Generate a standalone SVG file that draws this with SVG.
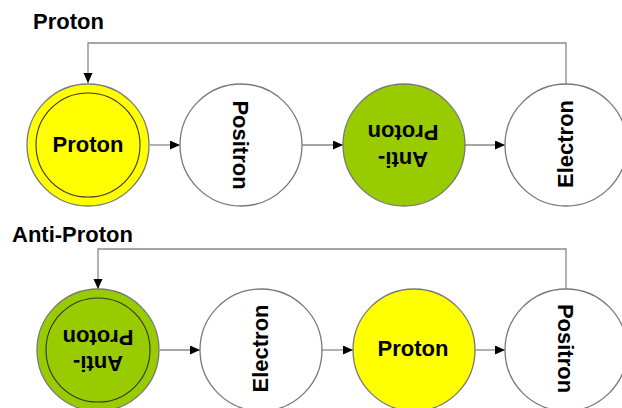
<svg xmlns="http://www.w3.org/2000/svg" width="622" height="408" viewBox="0 0 622 408">
  <defs>
    <marker id="arrow" markerUnits="userSpaceOnUse" markerWidth="11" markerHeight="10" refX="10" refY="4.5" orient="auto">
      <path d="M0,0 L10,4.5 L0,9 z" fill="#000"/>
    </marker>
    <style>
      .node { stroke: #777; stroke-width: 1.3; }
      .inner { fill: none; stroke: #333; stroke-width: 1.1; }
      .white { fill: #fff; }
      .yellow { fill: #ffff00; }
      .green { fill: #99cc00; }
      .label { font-family: "Liberation Sans", Arial, sans-serif; font-weight: bold; font-size: 22px; fill: #000; }
      .mid { text-anchor: middle; }
      .conn { fill: none; stroke: #888; stroke-width: 1.3; marker-end: url(#arrow); }
    </style>
  </defs>
  <rect width="622" height="408" fill="#fff"/>

  <!-- row titles -->
  <text class="label" x="33" y="29">Proton</text>
  <text class="label" x="12" y="242">Anti-Proton</text>

  <!-- connectors -->
  <g id="connectors">
    <path class="conn" d="M566,84 V43 H88 V83"/>
    <path class="conn" d="M150,145 H180"/>
    <path class="conn" d="M302,145 H343"/>
    <path class="conn" d="M465,145 H505"/>
    <path class="conn" d="M566,289 V249 H98 V289"/>
    <path class="conn" d="M160,350 H200"/>
    <path class="conn" d="M322,350 H353"/>
    <path class="conn" d="M475,350 H505"/>
  </g>

  <!-- top row -->
  <g id="t-proton">
    <circle class="node yellow" cx="88" cy="145" r="61"/>
    <circle class="inner" cx="88" cy="145" r="52"/>
    <text class="label mid" x="88" y="152">Proton</text>
  </g>
  <g id="t-positron">
    <circle class="node white" cx="241" cy="145" r="61"/>
    <text class="label mid" x="241" y="153" transform="rotate(90 241 145)">Positron</text>
  </g>
  <g id="t-antiproton">
    <circle class="node green" cx="404" cy="145" r="61"/>
    <g transform="rotate(180 404 145)">
      <text class="label mid" x="405" y="138">Anti-</text>
      <text class="label mid" x="405" y="165">Proton</text>
    </g>
  </g>
  <g id="t-electron">
    <circle class="node white" cx="566" cy="145" r="61"/>
    <text class="label mid" x="567" y="152" transform="rotate(-90 566 145)">Electron</text>
  </g>

  <!-- bottom row -->
  <g id="b-antiproton">
    <circle class="node green" cx="98" cy="350" r="61"/>
    <circle class="inner" cx="98" cy="350" r="52"/>
    <g transform="rotate(180 98 350)">
      <text class="label mid" x="98" y="344">Anti-</text>
      <text class="label mid" x="98" y="370">Proton</text>
    </g>
  </g>
  <g id="b-electron">
    <circle class="node white" cx="261" cy="350" r="61"/>
    <text class="label mid" x="262.5" y="356.5" transform="rotate(-90 261 350)">Electron</text>
  </g>
  <g id="b-proton">
    <circle class="node yellow" cx="414" cy="350" r="61"/>
    <text class="label mid" x="413" y="356">Proton</text>
  </g>
  <g id="b-positron">
    <circle class="node white" cx="566" cy="350" r="61"/>
    <text class="label mid" x="564.5" y="358" transform="rotate(90 566 350)">Positron</text>
  </g>
</svg>
